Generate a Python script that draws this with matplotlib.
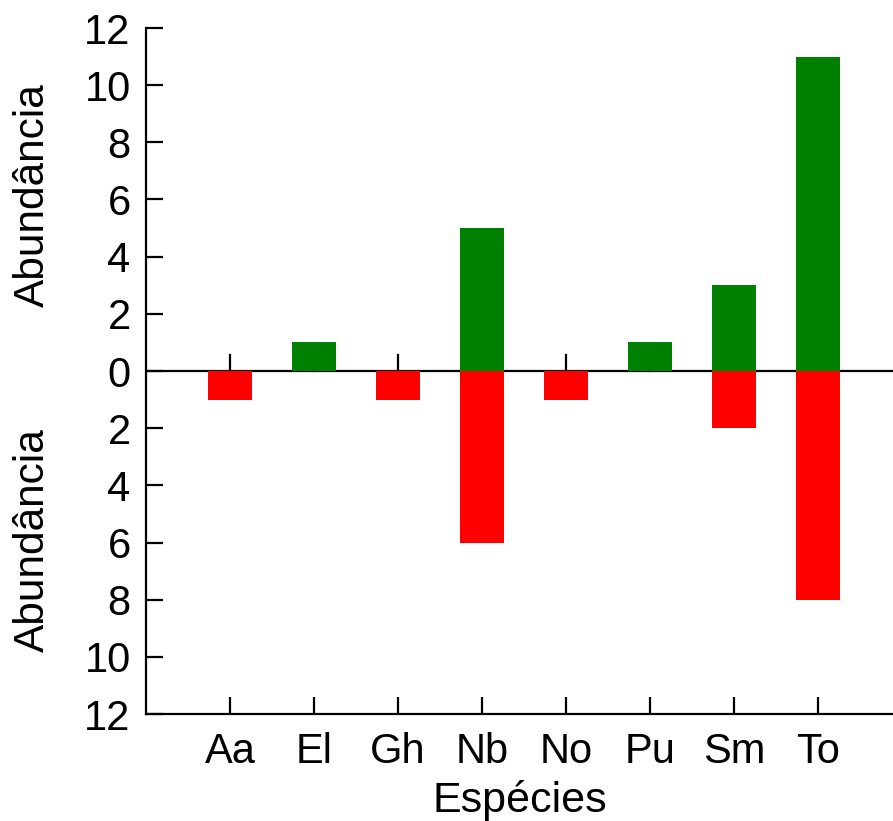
import matplotlib
matplotlib.use("Agg")
import matplotlib.pyplot as plt
from matplotlib.ticker import FuncFormatter

plt.rcParams['font.family'] = ['Liberation Sans', 'DejaVu Sans']

species = ["Aa", "El", "Gh", "Nb", "No", "Pu", "Sm", "To"]
upper_counts = [0, 1, 0, 5, 0, 1, 3, 11]   # green, above the zero line
lower_counts = [1, 0, 1, 6, 1, 0, 2, 8]    # red, below the zero line
y_ticks = [-12, -10, -8, -6, -4, -2, 0, 2, 4, 6, 8, 10, 12]

W, H = 893, 821
fig = plt.figure(figsize=(W / 100, H / 100), dpi=100)
ax = fig.add_axes([146 / W, (H - 714) / H, (W - 146) / W, (714 - 28) / H])

pos = list(range(1, len(species) + 1))
ax.bar(pos, upper_counts, width=0.52, color="#008000", zorder=3)
ax.bar(pos, [-v for v in lower_counts], width=0.52, color="#ff0000", zorder=3)

# zero line with small upward ticks at each species
ax.axhline(0, color="black", lw=1.6, zorder=2)
for p in pos:
    ax.plot([p, p], [0, 0.55], color="black", lw=1.6, zorder=1)

ax.set_xlim(0, 747 / 84)
ax.set_ylim(-12, 12)
ax.set_yticks(y_ticks)
ax.yaxis.set_major_formatter(FuncFormatter(lambda v, _: f"{abs(int(v))}"))
ax.set_xticks(pos)
ax.set_xticklabels(species)

for s in ["top", "right"]:
    ax.spines[s].set_visible(False)
for s in ["left", "bottom"]:
    ax.spines[s].set_linewidth(1.6)

ax.tick_params(axis="both", direction="in", length=12, width=1.6, labelsize=30)
ax.tick_params(axis="y", pad=11)
ax.tick_params(axis="x", pad=13)

ax.set_xlabel("Espécies", fontsize=31, labelpad=6)
fig.text(33 / W, 1 - 195 / H, "Abundância", rotation=90, fontsize=30.5,
         ha="center", va="center")
fig.text(33 / W, 1 - 540 / H, "Abundância", rotation=90, fontsize=30.5,
         ha="center", va="center")

fig.savefig("out.png", dpi=100)
